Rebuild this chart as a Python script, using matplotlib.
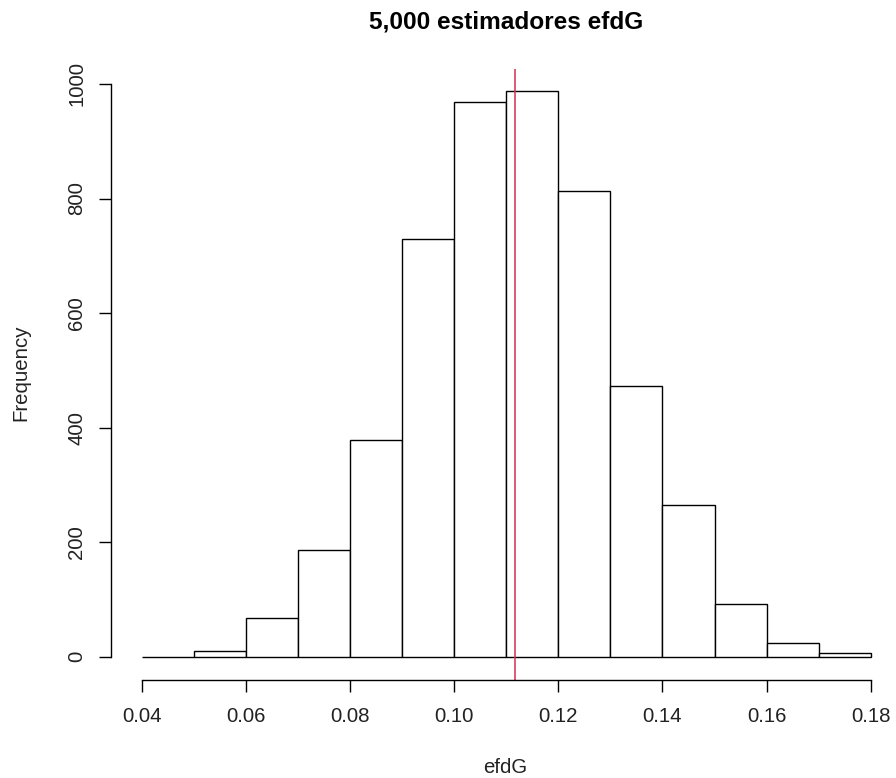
import matplotlib
matplotlib.use("Agg")
import matplotlib.pyplot as plt
import numpy as np

# Data
bin_edges = [0.04, 0.05, 0.06, 0.07, 0.08, 0.09, 0.10, 0.11, 0.12, 0.13, 0.14, 0.15, 0.16, 0.17, 0.18]
counts = [0, 10, 67, 187, 378, 730, 968, 987, 813, 473, 265, 92, 24, 7]
mean_value = 0.1116
x_ticks = [0.04, 0.06, 0.08, 0.10, 0.12, 0.14, 0.16, 0.18]
x_tick_labels = ["0.04", "0.06", "0.08", "0.10", "0.12", "0.14", "0.16", "0.18"]
y_ticks = [0, 200, 400, 600, 800, 1000]
y_tick_labels = ["0", "200", "400", "600", "800", "1000"]
title = "5,000 estimadores efdG"
xlabel = "efdG"
ylabel = "Frequency"

plt.rcParams['font.family'] = ['Liberation Sans', 'DejaVu Sans']

W, H = 896, 778
fig = plt.figure(figsize=(W / 100, H / 100), dpi=100)
fig.patch.set_facecolor('white')

left_px, right_px = 111, 896
top_px, bottom_px = 68.8, 679.5
ax = fig.add_axes([left_px / W, 1 - bottom_px / H, (right_px - left_px) / W, (bottom_px - top_px) / H])

lefts = np.array(bin_edges[:-1])
widths = np.diff(bin_edges)
ax.bar(lefts, counts, width=widths, align='edge', facecolor='white',
       edgecolor='black', linewidth=1.0)
ax.axvline(mean_value, color='#d03050', linewidth=1.1)

ax.set_xlim(0.0341, 0.18484)
ax.set_ylim(-39.8, 1026.5)

for s in ['top', 'right']:
    ax.spines[s].set_visible(False)
ax.spines['left'].set_bounds(0, 1000)
ax.spines['bottom'].set_bounds(0.04, 0.18)
ax.spines['left'].set_linewidth(1.0)
ax.spines['bottom'].set_linewidth(1.0)

ax.set_xticks(x_ticks)
ax.set_xticklabels(x_tick_labels, fontsize=14.7)
ax.set_yticks(y_ticks)
ax.set_yticklabels(y_tick_labels, fontsize=14.7, rotation=90, va='center')
ax.tick_params(axis='x', length=8.6, width=1.0, pad=11.5, colors='black')
ax.tick_params(axis='y', length=8.6, width=1.0, pad=9.4, colors='black')
for lbl in ax.get_xticklabels() + ax.get_yticklabels():
    lbl.set_color('#222222')

fig.text(506 / W, 1 - 28 / H, title, ha='center', va='baseline',
         fontsize=17.6, fontweight='bold', color='black')
fig.text(505 / W, 1 - 773 / H, xlabel, ha='center', va='baseline',
         fontsize=14.7, color='#222222')
fig.text(21 / W, 1 - 373 / H, ylabel, ha='center', va='center', rotation=90,
         fontsize=14.7, color='#222222')

fig.savefig('out.png', dpi=100, facecolor='white')
